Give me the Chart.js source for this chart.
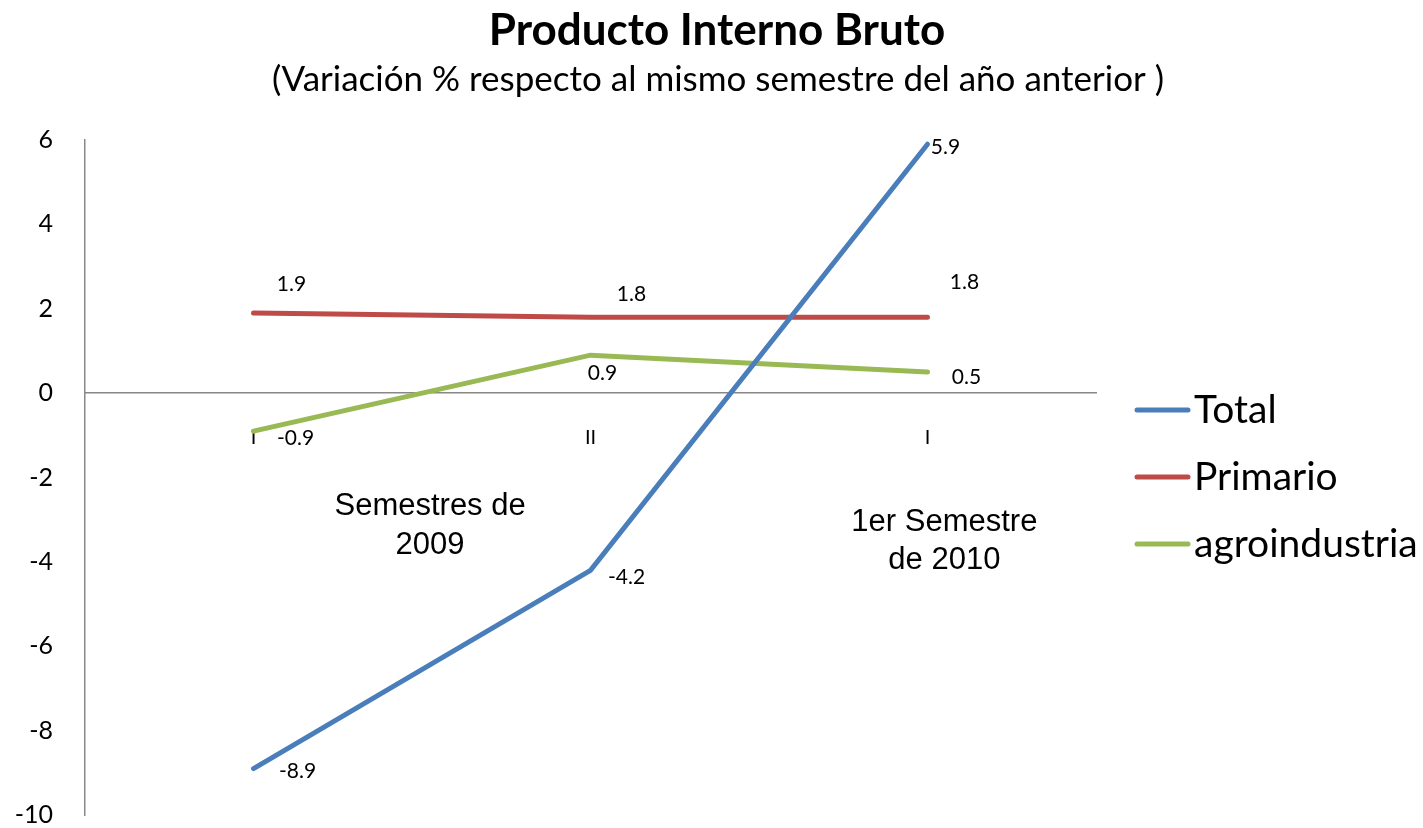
<!DOCTYPE html>
<html>
<head>
<meta charset="utf-8">
<script src="https://cdn.jsdelivr.net/npm/chart.js@4.4.1/dist/chart.umd.min.js"></script>
<style>
  html, body { margin: 0; padding: 0; background: #fff; overflow: hidden; }
  canvas { display: block; }
</style>
</head>
<body>
<canvas id="myChart" width="1423" height="828"></canvas>
<script>
// data
const semesters = ['I', 'II', 'I'];
const totalValues = [-8.9, -4.2, 5.9];
const primarioValues = [1.9, 1.8, 1.8];
const agroValues = [-0.9, 0.9, 0.5];
const seriesNames = ['Total', 'Primario', 'agroindustria'];
const yTicks = [-10, -8, -6, -4, -2, 0, 2, 4, 6];

const colors = ['#4A7EBB', '#BE4B48', '#98B954'];
const FONT = 'Lato, "Open Sans", sans-serif';

// pixel offsets for the value labels, per series / point
const labelOffsets = [
  [[44, 3], [36, 7], [18, 3]],
  [[38, -29], [41, -23], [37, -35]],
  [[42, 7], [12, 18], [39, 5]]
];

// value labels, titles, notes and legend drawn on the canvas
const extrasPlugin = {
  id: 'extras',
  afterDatasetsDraw(chart) {
    const ctx = chart.ctx;
    const xs = chart.scales.x, ys = chart.scales.y;
    ctx.save();
    // value labels
    ctx.font = '21px ' + FONT;
    ctx.fillStyle = '#000';
    ctx.textAlign = 'center';
    ctx.textBaseline = 'middle';
    chart.data.datasets.forEach((ds, i) => {
      const meta = chart.getDatasetMeta(i);
      meta.data.forEach((pt, j) => {
        const off = labelOffsets[i][j];
        ctx.fillText(ds.data[j].toFixed(1), pt.x + off[0], pt.y + off[1]);
      });
    });

    // title + subtitle
    ctx.font = 'bold 44px ' + FONT;
    ctx.fillText('Producto Interno Bruto', 717, 31);
    ctx.font = '35px ' + FONT;
    ctx.fillText('(Variación % respecto al mismo semestre del año anterior )', 718, 80);

    // notes under the axis
    ctx.font = '31px "Liberation Sans", Arial, sans-serif';
    const nx1 = xs.getPixelForValue(0.524);
    ctx.fillText('Semestres de', nx1, ys.getPixelForValue(-2.68));
    ctx.fillText('2009', nx1, ys.getPixelForValue(-3.6));
    const nx2 = xs.getPixelForValue(2.05);
    ctx.fillText('1er Semestre', nx2, ys.getPixelForValue(-3.06));
    ctx.fillText('de 2010', nx2, ys.getPixelForValue(-3.96));

    // legend
    ctx.font = '39px ' + FONT;
    ctx.textAlign = 'left';
    ctx.lineCap = 'round';
    chart.data.datasets.forEach((ds, i) => {
      const y = 410 + i * 67;
      ctx.strokeStyle = ds.borderColor;
      ctx.lineWidth = 5;
      ctx.beginPath();
      ctx.moveTo(1137, y);
      ctx.lineTo(1188, y);
      ctx.stroke();
      ctx.fillText(ds.label, 1194, y);
    });
    ctx.restore();
  }
};

const makeSet = (name, values, color) => ({
  label: name,
  data: values,
  borderColor: color,
  backgroundColor: color,
  borderWidth: 5,
  pointRadius: 0,
  borderCapStyle: 'round',
  tension: 0,
  fill: false
});

new Chart(document.getElementById('myChart'), {
  type: 'line',
  data: {
    labels: semesters,
    datasets: [
      makeSet(seriesNames[0], totalValues, colors[0]),
      makeSet(seriesNames[1], primarioValues, colors[1]),
      makeSet(seriesNames[2], agroValues, colors[2])
    ]
  },
  options: {
    responsive: false,
    animation: false,
    layout: { padding: { left: 0, right: 327, top: 140, bottom: 13 } },
    plugins: {
      legend: { display: false },
      title: { display: false },
      tooltip: { enabled: false }
    },
    scales: {
      x: {
        position: { y: 0 },
        offset: true,
        grid: { display: false, drawTicks: false },
        border: { display: true, color: '#888888', width: 1.5 },
        ticks: {
          color: '#000',
          font: { family: FONT, size: 20 },
          padding: 32,
          maxRotation: 0
        }
      },
      y: {
        min: -10,
        max: 6,
        afterFit(scale) { scale.width = 85; },
        afterBuildTicks(scale) { scale.ticks = yTicks.map(v => ({ value: v })); },
        // invisible tick marks push the labels left (tick padding would shrink the plot)
        grid: { display: true, drawOnChartArea: false, drawTicks: true, tickLength: 32, color: 'rgba(0,0,0,0)' },
        border: { display: true, color: '#888888', width: 1.5 },
        ticks: {
          color: '#000',
          font: { family: FONT, size: 25, lineHeight: 1 },
          padding: 0
        }
      }
    }
  },
  plugins: [extrasPlugin]
});
</script>
</body>
</html>
